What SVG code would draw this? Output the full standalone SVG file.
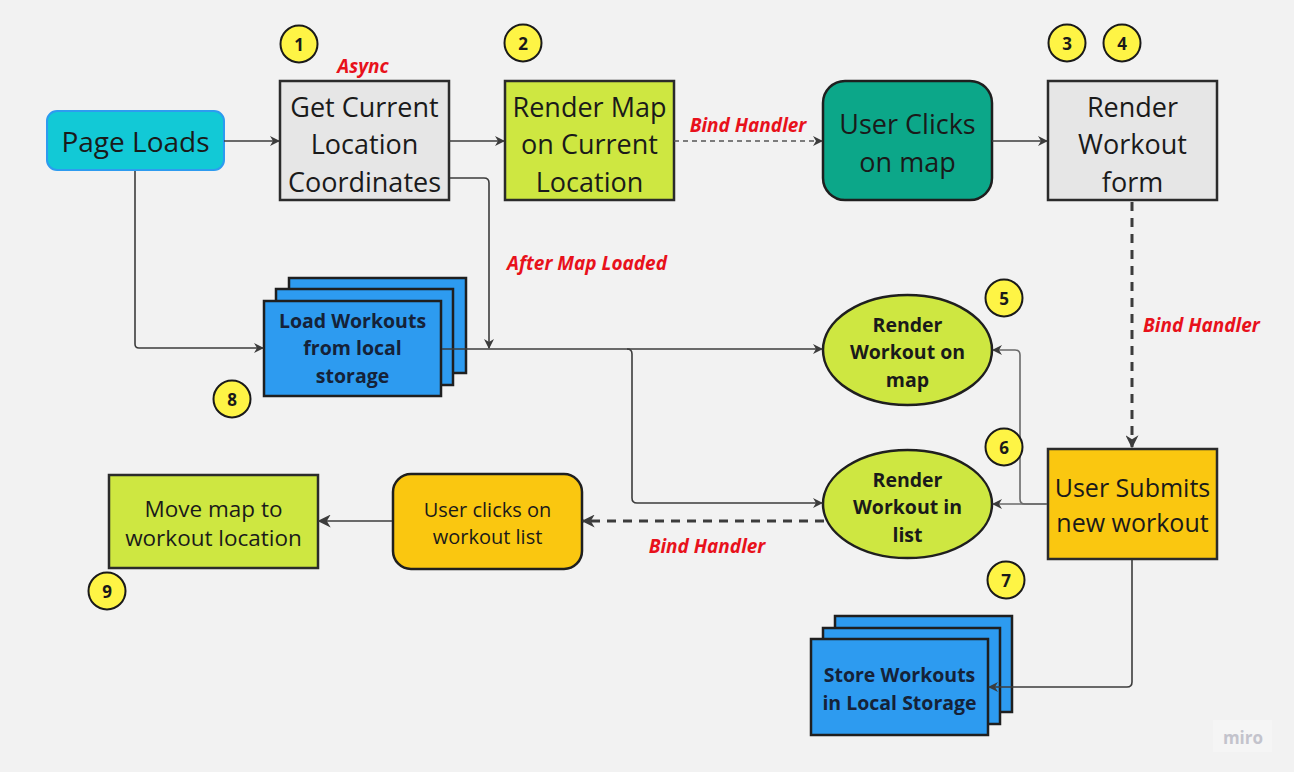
<svg xmlns="http://www.w3.org/2000/svg" width="1294" height="772" viewBox="0 0 1294 772">
<defs>
<style>
.t{font-family:"Open Sans","Noto Sans","Liberation Sans",sans-serif;fill:#1a1a1a;text-anchor:middle;dominant-baseline:central}
.big{font-size:27px}
.mid{font-size:25px}
.b{font-weight:bold;font-size:19.5px}
.s{fill:#152238}
.red{font-family:"Open Sans","Noto Sans","Liberation Sans",sans-serif;font-weight:bold;font-style:italic;font-size:19px;fill:#e8111b;dominant-baseline:central}
.badge circle{fill:#fef445;stroke:#1a1a1a;stroke-width:2}
.badge text{font-family:"Open Sans","Noto Sans","Liberation Sans",sans-serif;font-weight:bold;font-size:17px;fill:#1a1a1a;text-anchor:middle;dominant-baseline:central}
.c{fill:none;stroke:#3c3c3c;stroke-width:1.6}
.cl{fill:none;stroke:#6a6a6a;stroke-width:1.6}
.d1{fill:none;stroke:#555;stroke-width:1.5;stroke-dasharray:5 4}
.d3{fill:none;stroke:#3c3c3c;stroke-width:3;stroke-dasharray:9 7}
.box{stroke:#2b2b2b;stroke-width:2.5}
.stk{fill:#2d9bf0;stroke:#1f1f1f;stroke-width:2.5}
</style>
<marker id="a" viewBox="0 0 10 10" refX="9" refY="5" markerWidth="10" markerHeight="10" markerUnits="userSpaceOnUse" orient="auto">
<path d="M0,0 L10,5 L0,10 L3,5 z" fill="#3c3c3c"/>
</marker>
<marker id="a2" viewBox="0 0 10 10" refX="9" refY="5" markerWidth="13" markerHeight="13" markerUnits="userSpaceOnUse" orient="auto">
<path d="M0,0 L10,5 L0,10 L3,5 z" fill="#3c3c3c"/>
</marker>
</defs>
<rect width="1294" height="772" fill="#f2f2f2"/>

<g id="page-loads">
<rect x="47" y="111" width="177" height="59" rx="10" fill="#12c9d6" stroke="#2d9bf0" stroke-width="2"/>
<text class="t" x="135.5" y="141" font-size="28">Page Loads</text>
</g>

<g id="get-location">
<rect class="box" x="280" y="81" width="169" height="119" fill="#e6e6e6"/>
<text class="t big" x="364.5" y="106">Get Current</text>
<text class="t big" x="364.5" y="143.5">Location</text>
<text class="t big" x="364.5" y="181">Coordinates</text>
</g>

<g id="render-map">
<rect class="box" x="505" y="81" width="169" height="119" fill="#cee741"/>
<text class="t big" x="589.5" y="106">Render Map</text>
<text class="t big" x="589.5" y="143.5">on Current</text>
<text class="t big" x="589.5" y="181">Location</text>
</g>

<g id="user-clicks-map">
<rect x="823" y="81" width="169" height="119" rx="22" fill="#0ca789" stroke="#1f1f1f" stroke-width="2.5"/>
<text class="t big" x="907.5" y="123">User Clicks</text>
<text class="t big" x="907.5" y="161">on map</text>
</g>

<g id="render-form">
<rect class="box" x="1048" y="81" width="169" height="119" fill="#e6e6e6"/>
<text class="t big" x="1132.5" y="106">Render</text>
<text class="t big" x="1132.5" y="143.5">Workout</text>
<text class="t big" x="1132.5" y="181">form</text>
</g>

<g id="load-workouts">
<rect class="stk" x="289" y="278" width="177" height="95"/>
<rect class="stk" x="276" y="289" width="177" height="96"/>
<rect class="stk" x="264" y="301" width="177" height="95"/>
<text class="t b s" x="352.5" y="320" font-size="20">Load Workouts</text>
<text class="t b s" x="352.5" y="347.5" font-size="20">from local</text>
<text class="t b s" x="352.5" y="375" font-size="20">storage</text>
</g>

<g id="render-on-map">
<ellipse cx="907.5" cy="350" rx="84.5" ry="55" fill="#cee741" stroke="#1f1f1f" stroke-width="2.5"/>
<text class="t b" x="907.5" y="324">Render</text>
<text class="t b" x="907.5" y="351.5">Workout on</text>
<text class="t b" x="907.5" y="379">map</text>
</g>

<g id="render-in-list">
<ellipse cx="907.5" cy="504" rx="84.5" ry="54" fill="#cee741" stroke="#1f1f1f" stroke-width="2.5"/>
<text class="t b" x="907.5" y="479">Render</text>
<text class="t b" x="907.5" y="506.5">Workout in</text>
<text class="t b" x="907.5" y="534">list</text>
</g>

<g id="user-submits">
<rect class="box" x="1048" y="449" width="169" height="110" fill="#fac710"/>
<text class="t mid" x="1132.5" y="487">User Submits</text>
<text class="t mid" x="1132.5" y="522">new workout</text>
</g>

<g id="store-workouts">
<rect class="stk" x="835" y="616" width="177" height="96"/>
<rect class="stk" x="823" y="628" width="177" height="96"/>
<rect class="stk" x="811" y="639" width="177" height="96"/>
<text class="t b s" x="899.5" y="674" font-size="20">Store Workouts</text>
<text class="t b s" x="899.5" y="702" font-size="20">in Local Storage</text>
</g>

<g id="user-clicks-list">
<rect x="393" y="474" width="189" height="95" rx="18" fill="#fac710" stroke="#1f1f1f" stroke-width="2.5"/>
<text class="t" x="487.5" y="509" font-size="20">User clicks on</text>
<text class="t" x="487.5" y="536" font-size="20">workout list</text>
</g>

<g id="move-map">
<rect class="box" x="109" y="475" width="209" height="93" fill="#cee741"/>
<text class="t" x="213.5" y="508" font-size="22.5">Move map to</text>
<text class="t" x="213.5" y="537" font-size="22.5">workout location</text>
</g>

<g id="connectors">
<path class="c" d="M224,141 H279" marker-end="url(#a)"/>
<path class="c" d="M449,141 H504" marker-end="url(#a)"/>
<path class="d1" d="M674,141 H822" marker-end="url(#a)"/>
<path class="c" d="M992,141 H1047" marker-end="url(#a)"/>
<path class="c" d="M450,178 H484 Q489,178 489,183 V348" marker-end="url(#a)"/>
<path class="c" d="M135,171 V344 Q135,348 139,348 H263" marker-end="url(#a)"/>
<path class="c" d="M442,349 H822" marker-end="url(#a)"/>
<path class="c" d="M627,349 Q632,349 632,354 V498 Q632,503 637,503 H822" marker-end="url(#a)"/>
<path class="d3" d="M1132,202 V447" marker-end="url(#a2)"/>
<path class="cl" d="M1047,504 H993" marker-end="url(#a)"/>
<path class="cl" d="M1047,504 H1025 Q1020,504 1020,499 V355 Q1020,350 1015,350 H993" marker-end="url(#a)"/>
<path class="c" d="M1132,560 V682 Q1132,687 1127,687 H989" marker-end="url(#a)"/>
<path class="d3" d="M824,521 H583" marker-end="url(#a2)"/>
<path class="c" d="M392,521 H319" stroke-width="2.5" marker-end="url(#a2)"/>
<text class="red" x="363" y="66" text-anchor="middle">Async</text>
<text class="red" x="748" y="125" text-anchor="middle">Bind Handler</text>
<text class="red" x="587" y="263" text-anchor="middle">After Map Loaded</text>
<text class="red" x="1143" y="325">Bind Handler</text>
<text class="red" x="707" y="546" text-anchor="middle">Bind Handler</text>
</g>

<g id="badges">
<g class="badge"><circle cx="299" cy="44" r="18.5"/><text x="299" y="44">1</text></g>
<g class="badge"><circle cx="523" cy="43" r="18.5"/><text x="523" y="43">2</text></g>
<g class="badge"><circle cx="1067" cy="43" r="18.5"/><text x="1067" y="43">3</text></g>
<g class="badge"><circle cx="1122" cy="43" r="18.5"/><text x="1122" y="43">4</text></g>
<g class="badge"><circle cx="1004" cy="298" r="18.5"/><text x="1004" y="298">5</text></g>
<g class="badge"><circle cx="1004" cy="447" r="18.5"/><text x="1004" y="447">6</text></g>
<g class="badge"><circle cx="1006" cy="580" r="18.5"/><text x="1006" y="580">7</text></g>
<g class="badge"><circle cx="232" cy="399" r="18.5"/><text x="232" y="399">8</text></g>
<g class="badge"><circle cx="107" cy="591" r="18.5"/><text x="107" y="591">9</text></g>
</g>

<g id="watermark">
<rect x="1213" y="720" width="59" height="32" fill="#f5f5f5"/>
<text x="1243" y="737" font-family="Open Sans, Noto Sans, sans-serif" font-weight="bold" font-size="17" fill="#c3c3cc" text-anchor="middle" dominant-baseline="central">miro</text>
</g>
</svg>
